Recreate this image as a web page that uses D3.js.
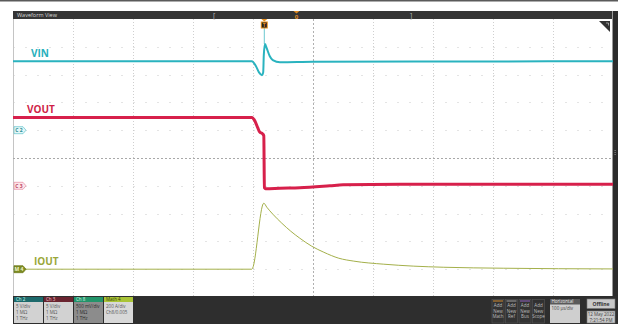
<!DOCTYPE html>
<html>
<head>
<meta charset="utf-8">
<script src="https://cdn.jsdelivr.net/npm/d3@7/dist/d3.min.js"></script>
<style>
html, body { margin: 0; padding: 0; background: #fff; }
svg { display: block; }
</style>
</head>
<body>
<div id="chart"></div>
<script>
const vinTime  = [-418, -20, -13, -8, -3, -1, 0, 2, 5, 10, 15, 27, 82, 300, 582];
const vinVolts = [12.4, 12.4, 11.5, 10.4, 9.9, 10.4, 13.5, 15.5, 14.7, 13.3, 12.6, 12.2, 12.3, 12.35, 12.4];

const voutTime  = [-418, -20, -15, -10, -7, -2, 0, 1, 3, 27, 60, 110, 132, 227, 400, 582];
const voutVolts = [12.3, 12.3, 11.7, 10.4, 9.7, 9.35, 9.0, -0.36, -0.54, -0.45, -0.36, 0.0, 0.18, 0.27, 0.27, 0.27];

const ioutTime = [-418, -20, 0, 5, 15, 30, 45, 60, 80, 100, 125, 150, 200, 250, 300, 400, 582];
const ioutAmps = [0, 0, 475, 446, 396, 331, 273, 223, 165, 122, 79, 58, 36, 22, 14, 7, 2];

const traceNames = ["VIN", "VOUT", "IOUT"];
const timeRange = [-418, 582];      // 10 div × 100 µs/div
const perDiv = [5, 5, 200];         // Ch2, Ch3 (V/div), Math4 (A/div)
const offsetDiv = [1, -1, -4];      // ground marker position in divisions

const badgeTitles = ["Ch 2", "Ch 3", "Ch 8", "Math 4"];
const badgeLines = [
    ["5 V/div", "1 MΩ", "1 THz"],
    ["5 V/div", "1 MΩ", "1 THz"],
    ["500 mV/div", "1 MΩ", "1 THz"],
    ["200 A/div", "Ch8/0.005"]
];
const addButtons = ["Math", "Ref", "Bus", "Scope"];

const W = 618, H = 330;
const plot = { left: 13, right: 613, top: 19, bottom: 297 };
const FONT = "'Open Sans', 'DejaVu Sans', sans-serif";

const svg = d3.select("#chart").append("svg")
    .attr("width", W)
    .attr("height", H);

svg.append("rect").attr("width", W).attr("height", H).attr("fill", "#fff");

// top rule
svg.append("rect").attr("x", 0).attr("y", 0).attr("width", W).attr("height", 1.5).attr("fill", "#5a5a5a");

// title bar
svg.append("rect").attr("x", plot.left).attr("y", 11).attr("width", 600).attr("height", 8).attr("fill", "#353535");
svg.append("text")
    .attr("x", plot.left + 4).attr("y", 17.2)
    .attr("fill", "#d8d8d8").attr("font-size", "5.5px").attr("font-family", FONT)
    .text("Waveform View");
svg.append("text").attr("x", 213).attr("y", 17.5).attr("fill", "#bbb").attr("font-size", "7px").attr("font-family", FONT).text("[");
svg.append("text").attr("x", 410).attr("y", 17.5).attr("fill", "#bbb").attr("font-size", "7px").attr("font-family", FONT).text("]");
svg.append("path").attr("d", "M293.5,11 L299.5,11 L296.5,13.5 Z").attr("fill", "#e08a20");
svg.append("text").attr("x", 296.5).attr("y", 18.5).attr("text-anchor", "middle")
    .attr("fill", "#e08a20").attr("font-size", "6px").attr("font-family", FONT).attr("font-weight", "700").text("0");

// right side bar
svg.append("rect").attr("x", 612).attr("y", 11).attr("width", 6).attr("height", 313).attr("fill", "#2c2c2c");
svg.append("rect").attr("x", 612).attr("y", 11).attr("width", 1).attr("height", 286).attr("fill", "#9a9a9a");
for (let i = 0; i < 3; i++) {
    svg.append("rect").attr("x", 614.6).attr("y", 150 + i * 2).attr("width", 1).attr("height", 1).attr("fill", "#999");
}

// grid
const gx = d3.scaleLinear().domain([0, 10]).range([plot.left, plot.right]);
const gy = d3.scaleLinear().domain([-5, 5]).range([plot.bottom, plot.top]);
const grid = svg.append("g");

grid.append("line")
    .attr("x1", plot.left + 0.5).attr("x2", plot.left + 0.5)
    .attr("y1", plot.top).attr("y2", plot.bottom)
    .attr("stroke", "#c4c4c4").attr("stroke-width", 1);

grid.selectAll(".vgrid")
    .data(d3.range(1, 10))
    .enter().append("line")
    .attr("class", "vgrid")
    .attr("x1", d => Math.round(gx(d)) + 0.5).attr("x2", d => Math.round(gx(d)) + 0.5)
    .attr("y1", plot.top).attr("y2", plot.bottom)
    .attr("stroke", d => d === 5 ? "#b0b0b0" : "#cfcfcf")
    .attr("stroke-width", 1)
    .attr("stroke-dasharray", d => d === 5 ? "2,2" : "1,2");

grid.selectAll(".hgrid")
    .data(d3.range(-4, 5).filter(d => d !== 0))
    .enter().append("line")
    .attr("class", "hgrid")
    .attr("x1", plot.left + 0.5).attr("x2", plot.right)
    .attr("y1", d => Math.round(gy(d)) + 0.5).attr("y2", d => Math.round(gy(d)) + 0.5)
    .attr("stroke", "#c8c8c8")
    .attr("stroke-width", 1)
    .attr("stroke-dasharray", "1,11");

grid.append("line")
    .attr("x1", plot.left).attr("x2", plot.right)
    .attr("y1", Math.round(gy(0)) + 0.5).attr("y2", Math.round(gy(0)) + 0.5)
    .attr("stroke", "#a8a8a8").attr("stroke-width", 1)
    .attr("stroke-dasharray", "2,2");

// scales
const x = d3.scaleLinear().domain(timeRange).range([plot.left, plot.right]);
const yScales = perDiv.map((pd, i) =>
    d3.scaleLinear()
        .domain([(-5 - offsetDiv[i]) * pd, (5 - offsetDiv[i]) * pd])
        .range([plot.bottom, plot.top]));

const traces = [
    { t: vinTime, v: vinVolts, color: "#2ab3bf", width: 2 },
    { t: voutTime, v: voutVolts, color: "#d7204b", width: 3 },
    { t: ioutTime, v: ioutAmps, color: "#a4b04a", width: 1 }
];
const labelColors = ["#28b0bc", "#cf1f48", "#9aa83a"];
const labelX = [31, 27, 34];

// trigger connector
svg.append("line")
    .attr("x1", x(0) + 0.5).attr("x2", x(0) + 0.5)
    .attr("y1", 28).attr("y2", yScales[0](15.5))
    .attr("stroke", "#6cc9d0").attr("stroke-width", 1);

traces.forEach((tr, i) => {
    const pts = tr.t.map((t, k) => [t, tr.v[k]]);
    const line = d3.line().x(d => x(d[0])).y(d => yScales[i](d[1])).curve(d3.curveMonotoneX);
    svg.append("path")
        .datum(pts)
        .attr("d", line)
        .attr("fill", "none")
        .attr("stroke", tr.color)
        .attr("stroke-width", tr.width)
        .attr("stroke-linejoin", "round");

    svg.append("text")
        .attr("x", labelX[i])
        .attr("y", yScales[i](tr.v[0]) - 4)
        .attr("fill", labelColors[i])
        .attr("font-size", "10px")
        .attr("font-weight", "700")
        .attr("font-family", FONT)
        .text(traceNames[i]);
});

// ground markers on the left edge
const markers = [
    { label: "C 2", fill: "#e4f6f7", stroke: "#5ec3cb", text: "#2a8c94" },
    { label: "C 3", fill: "#fbe6ea", stroke: "#e58aa0", text: "#c0405f" },
    { label: "M 4", fill: "#7c8a22", stroke: "#6a7818", text: "#f0f4d0" }
];
markers.forEach((m, i) => {
    const yy = yScales[i](0);
    svg.append("path")
        .attr("d", `M14,${yy - 3.5} L23,${yy - 3.5} L26,${yy} L23,${yy + 3.5} L14,${yy + 3.5} Z`)
        .attr("fill", m.fill).attr("stroke", m.stroke).attr("stroke-width", 0.7);
    svg.append("text")
        .attr("x", 19).attr("y", yy + 1.8)
        .attr("text-anchor", "middle")
        .attr("fill", m.text).attr("font-size", "5px").attr("font-weight", "700")
        .attr("font-family", FONT)
        .text(m.label);
});

// trigger marker
svg.append("path").attr("d", `M${x(0) - 2.5},19 L${x(0) + 3.5},19 L${x(0) + 0.5},21.5 Z`).attr("fill", "#e8901e");
svg.append("rect").attr("x", x(0) - 3).attr("y", 21.5).attr("width", 7).attr("height", 7).attr("fill", "#e8901e");
svg.append("rect").attr("x", x(0) - 2).attr("y", 22.5).attr("width", 5).attr("height", 5).attr("fill", "#222");
svg.append("text").attr("x", x(0) + 0.5).attr("y", 26.8).attr("text-anchor", "middle")
    .attr("fill", "#e8901e").attr("font-size", "5px").attr("font-weight", "700").attr("font-family", FONT).text("T");

// top-right corner flag
svg.append("path").attr("d", "M599,21 L610,21 L610,32 Z").attr("fill", "#333");
svg.append("path").attr("d", "M606,23 L608.5,23 L608.5,25.5").attr("fill", "none").attr("stroke", "#ddd").attr("stroke-width", 0.6);

// bottom control panel
svg.append("rect").attr("x", plot.left).attr("y", 296).attr("width", W - plot.left).attr("height", 28).attr("fill", "#2e2e2e");

const badgeHead = ["#1d6a6c", "#6a2430", "#22946a", "#aac437"];
const badgeBody = ["#d2d2d2", "#d2d2d2", "#8c8c8c", "#d8d8d8"];
const badgeHeadText = ["#cfe", "#f2c8cf", "#d8f5e6", "#34400a"];
badgeTitles.forEach((title, i) => {
    const bx = 14 + i * 30;
    svg.append("rect").attr("x", bx).attr("y", 297).attr("width", 29).attr("height", 5).attr("fill", badgeHead[i]);
    svg.append("rect").attr("x", bx).attr("y", 302).attr("width", 29).attr("height", 21).attr("fill", badgeBody[i]);
    svg.append("text").attr("x", bx + 2).attr("y", 301.3)
        .attr("fill", badgeHeadText[i]).attr("font-size", "4.5px").attr("font-family", FONT).text(title);
    badgeLines[i].forEach((ln, k) => {
        svg.append("text").attr("x", bx + 2).attr("y", 307.5 + k * 6)
            .attr("fill", i === 2 ? "#2a2a2a" : "#555").attr("font-size", "4.5px").attr("font-family", FONT).text(ln);
    });
});

const btnStrip = ["#d08a30", "#a0a0a0", "#9060c0", "#2e2e2e"];
addButtons.forEach((name, i) => {
    const bx = 492 + i * 13.5;
    svg.append("rect").attr("x", bx).attr("y", 299.5).attr("width", 12).attr("height", 23.5)
        .attr("fill", "#333").attr("stroke", "#555").attr("stroke-width", 0.6);
    svg.append("rect").attr("x", bx + 1).attr("y", 300.5).attr("width", 10).attr("height", 1).attr("fill", btnStrip[i]);
    ["Add", "New", name].forEach((w, k) => {
        svg.append("text").attr("x", bx + 6).attr("y", 307 + k * 5.5).attr("text-anchor", "middle")
            .attr("fill", "#bdbdbd").attr("font-size", "4.5px").attr("font-family", FONT).text(w);
    });
});

svg.append("rect").attr("x", 550).attr("y", 299).attr("width", 30).attr("height", 24).attr("fill", "#cfcfcf");
svg.append("rect").attr("x", 550).attr("y", 299).attr("width", 30).attr("height", 5.5).attr("fill", "#5a5a5a");
svg.append("text").attr("x", 551.5).attr("y", 303.4).attr("fill", "#eee").attr("font-size", "4.5px").attr("font-family", FONT).text("Horizontal");
svg.append("text").attr("x", 551.5).attr("y", 309.5).attr("fill", "#444").attr("font-size", "4.5px").attr("font-family", FONT).text("100 µs/div");

svg.append("rect").attr("x", 587).attr("y", 299).attr("width", 28).attr("height", 9.5)
    .attr("fill", "#c9c9c9").attr("stroke", "#777").attr("stroke-width", 0.6);
svg.append("text").attr("x", 601).attr("y", 305.5).attr("text-anchor", "middle")
    .attr("fill", "#333").attr("font-size", "5px").attr("font-weight", "700").attr("font-family", FONT).text("Offline");
svg.append("rect").attr("x", 587).attr("y", 311).attr("width", 28).attr("height", 12)
    .attr("fill", "#c9c9c9").attr("stroke", "#777").attr("stroke-width", 0.6);
svg.append("text").attr("x", 601).attr("y", 316).attr("text-anchor", "middle")
    .attr("fill", "#444").attr("font-size", "4.5px").attr("font-family", FONT).text("12 May 2022");
svg.append("text").attr("x", 601).attr("y", 321.5).attr("text-anchor", "middle")
    .attr("fill", "#444").attr("font-size", "4.5px").attr("font-family", FONT).text("7:21:54 PM");
</script>
</body>
</html>
